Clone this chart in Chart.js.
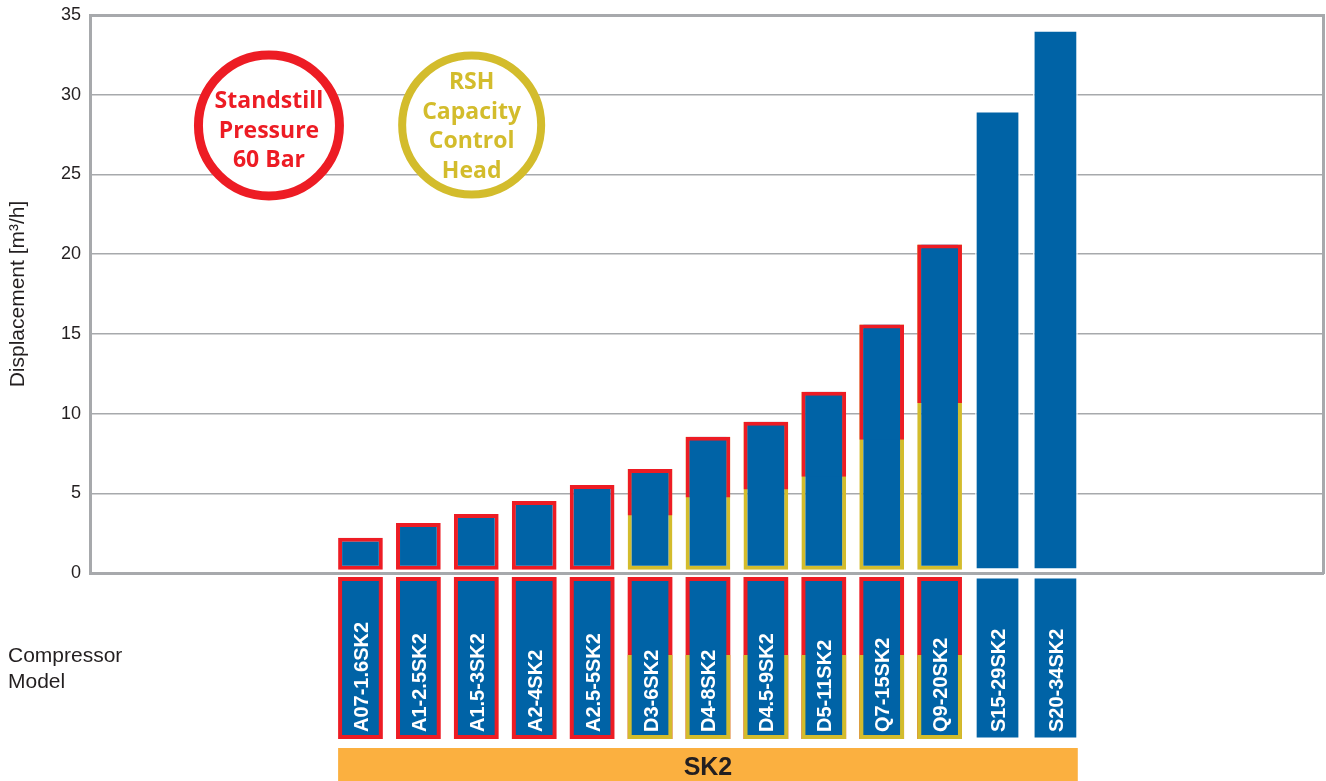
<!DOCTYPE html>
<html>
<head>
<meta charset="utf-8">
<script src="https://cdn.jsdelivr.net/npm/chart.js@4.4.1/dist/chart.umd.min.js"></script>
<style>
body{margin:0;background:#fff}
</style>
</head>
<body>
<canvas id="myChart" width="1326" height="781"></canvas>
<script>
// compressor models, the x position of a bar is its index here
const modelli=['A07-1.6SK2','A1-2.5SK2','A1.5-3SK2','A2-4SK2','A2.5-5SK2','D3-6SK2','D4-8SK2','D4.5-9SK2','D5-11SK2','Q7-15SK2','Q9-20SK2','S15-29SK2','S20-34SK2']
// top of each bar, displacement [m3/h]
const cilindrata=[2.21,3.14,3.70,4.52,5.52,6.52,8.55,9.49,11.37,15.58,20.60,28.98,34.05]
// where the yellow (RSH capacity control) part of the frame ends, null = no RSH
const rshFino=[null,null,null,null,null,3.61,4.74,5.24,6.04,8.36,10.66,null,null]
// red frame = standstill pressure 60 bar
const standstill=[true,true,true,true,true,true,true,true,true,true,true,false,false]
// y axis ticks
const yMin=0, yMax=35, yStep=5
// bars start a little above the axis
const fondo=0.2

const BLU='#0063a6', ROSSO='#ed1c24', GIALLO='#d3bc2c', GRIGIO='#a7a9ac', TESTO='#231f20', ARANCIO='#fbb040'
const FONT='"Liberation Sans", Arial, Helvetica, sans-serif'

// the two round badges, placed in data units
const cerchi=[
    {righe:['Standstill','Pressure','60 Bar'], colore:ROSSO, x:-1.58, y:28.07, r:70.5, spessore:9, dy:4},
    {righe:['RSH','Capacity','Control','Head'], colore:GIALLO, x:1.92, y:28.1, r:69.5, spessore:8, dy:0}
]

// datasets: red top part is drawn over the full yellow bar, so no seam shows
datiRshAlto=[]
datiRshPieno=[]
datiRossi=[]
datiSemplici=[]
for(i=0;i<modelli.length;i++){
    if(rshFino[i]!=null){
        datiRshAlto.push({x:i, y:[rshFino[i], cilindrata[i]]})
        datiRshPieno.push({x:i, y:[fondo, cilindrata[i]]})
    }else if(standstill[i]){
        datiRossi.push({x:i, y:[fondo, cilindrata[i]]})
    }else{
        datiSemplici.push({x:i, y:[fondo, cilindrata[i]]})
    }
}

const comune={backgroundColor:BLU, borderSkipped:false, grouped:false, barPercentage:0.772, categoryPercentage:1}

const badgePlugin={
    id:'badge',
    beforeDatasetsDraw(chart){
        const c=chart.ctx, sx=chart.scales.x, sy=chart.scales.y
        cerchi.forEach(cr=>{
            const px=sx.getPixelForValue(cr.x), py=sy.getPixelForValue(cr.y)
            c.save()
            c.beginPath()
            c.arc(px,py,cr.r,0,Math.PI*2)
            c.fillStyle='#fff'
            c.fill()
            c.lineWidth=cr.spessore
            c.strokeStyle=cr.colore
            c.stroke()
            c.fillStyle=cr.colore
            c.font='bold 23px "Open Sans", sans-serif'
            c.textAlign='center'
            c.textBaseline='alphabetic'
            const passo=29.5
            const b0=py+cr.dy-((cr.righe.length-1)*passo-17)/2
            cr.righe.forEach((t,k)=>c.fillText(t,px,b0+k*passo))
            c.restore()
        })
    },
    afterDraw(chart){
        const c=chart.ctx, sx=chart.scales.x, a=chart.chartArea
        const w=chart.getDatasetMeta(2).data[0].width
        const top=a.bottom+4, bot=a.bottom+166, cambio=a.bottom+82
        c.save()
        for(i=0;i<modelli.length;i++){
            const cx=sx.getPixelForValue(i), l=cx-w/2
            let b=4
            if(standstill[i]){
                c.fillStyle=ROSSO
                c.fillRect(l,top,w,bot-top)
                if(rshFino[i]!=null){
                    c.fillStyle=GIALLO
                    c.fillRect(l,cambio,w,bot-cambio)
                }
            }else{
                b=1.5
            }
            c.fillStyle=BLU
            c.fillRect(l+b,top+b,w-2*b,bot-top-2*b)
            // label, reads bottom to top
            c.save()
            c.translate(cx+7.5,bot-7)
            c.rotate(-Math.PI/2)
            c.fillStyle='#fff'
            c.font='bold 20px '+FONT
            c.textAlign='left'
            c.textBaseline='alphabetic'
            c.fillText(modelli[i],0,0)
            c.restore()
        }
        // SK2 band
        const sl=sx.getPixelForValue(0)-w/2, sr=sx.getPixelForValue(modelli.length-1)+w/2
        const bt=a.bottom+175
        c.fillStyle=ARANCIO
        c.fillRect(sl,bt,sr-sl,chart.height-bt)
        c.fillStyle=TESTO
        c.font='bold 25px '+FONT
        c.textAlign='center'
        c.textBaseline='middle'
        c.fillText('SK2',(sl+sr)/2,bt+20)
        // row title
        c.font='21px '+FONT
        c.textAlign='left'
        c.textBaseline='alphabetic'
        c.fillText('Compressor',8,a.bottom+89)
        c.fillText('Model',8,a.bottom+115)
        c.restore()
    }
}

const ctx=document.getElementById('myChart').getContext('2d')
const myChart=new Chart(ctx,{
    type:'bar',
    data:{
        datasets:[
            // first dataset is drawn last (on top)
            {...comune, label:'RSH 60 bar', data:datiRshAlto, borderColor:ROSSO, borderWidth:{top:4,left:4,right:4,bottom:0}},
            {...comune, label:'RSH', data:datiRshPieno, borderColor:GIALLO, borderWidth:{top:0,left:4,right:4,bottom:4}},
            {...comune, label:'60 bar', data:datiRossi, borderColor:ROSSO, borderWidth:4},
            {...comune, label:'S', data:datiSemplici, borderColor:'#fff', borderWidth:1.5}
        ]
    },
    options:{
        responsive:false,
        animation:false,
        layout:{padding:{top:15,right:3,left:0,bottom:0}},
        plugins:{legend:{display:false}, tooltip:{enabled:false}},
        scales:{
            x:{
                type:'linear',
                min:-4.67,
                max:16.62,
                offset:false,
                ticks:{display:false},
                grid:{display:false, offset:false},
                border:{display:true, color:GRIGIO, width:3},
                afterFit(s){ s.height=208 }
            },
            y:{
                min:yMin,
                max:yMax,
                ticks:{stepSize:yStep, color:TESTO, font:{family:FONT, size:18}, padding:9},
                grid:{
                    color:GRIGIO,
                    drawTicks:false,
                    lineWidth:c=>c.tick && c.tick.value==yMax ? 3 : 1.5
                },
                border:{display:true, color:GRIGIO, width:3},
                title:{display:true, text:'Displacement [m³/h]', color:TESTO, font:{family:FONT, size:21}, padding:{top:6,bottom:0}},
                afterFit(s){ s.width=90; s.paddingTop=0; s.paddingBottom=0 }
            },
            yr:{
                position:'right',
                min:yMin,
                max:yMax,
                ticks:{display:false},
                grid:{display:false},
                border:{display:true, color:GRIGIO, width:3},
                afterFit(s){ s.width=0; s.paddingTop=0; s.paddingBottom=0 }
            }
        }
    },
    plugins:[badgePlugin]
})
</script>
</body>
</html>
